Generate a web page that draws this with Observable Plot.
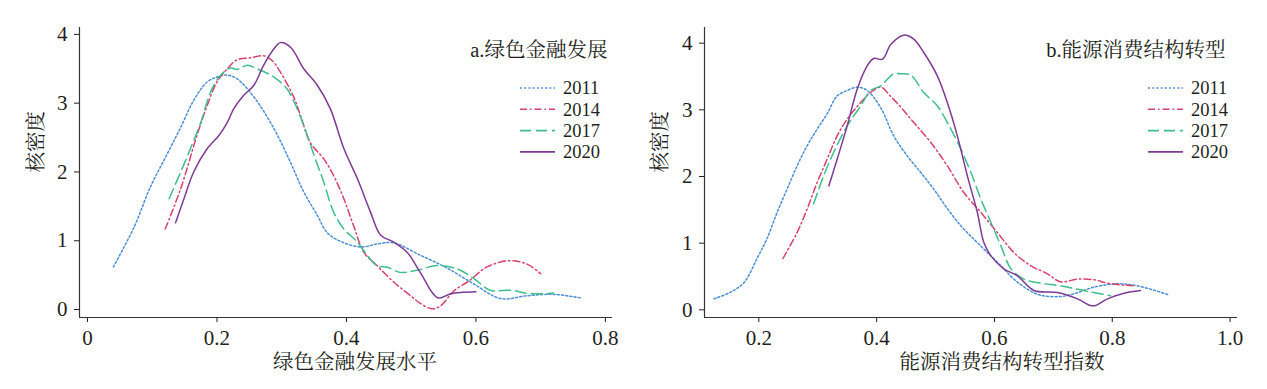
<!DOCTYPE html>
<html><head><meta charset="utf-8">
<script src="https://cdn.jsdelivr.net/npm/d3@7"></script>
<script src="https://cdn.jsdelivr.net/npm/@observablehq/plot@0.6"></script>
<style>
body{margin:0;background:#fff;}
#wrap{display:flex;width:1267px;height:389px;overflow:hidden;}
</style></head><body><div id="wrap"></div>
<script>
// ---------- data ----------
const years = ["2011", "2014", "2017", "2020"];

// Panel a: 绿色金融发展
const a2011x = [0.040,0.072,0.097,0.123,0.144,0.164,0.185,0.200,0.213,0.230,0.257,0.288,0.313,0.334,0.355,0.370,0.391,0.422,0.452,0.473,0.514,0.556,0.597,0.638,0.679,0.720,0.761];
const a2011y = [0.62,1.20,1.78,2.26,2.65,3.04,3.31,3.38,3.41,3.36,3.09,2.63,2.15,1.71,1.37,1.12,0.99,0.91,0.96,0.97,0.79,0.60,0.37,0.16,0.20,0.22,0.17];
const a2014x = [0.120,0.144,0.169,0.185,0.200,0.216,0.231,0.252,0.272,0.285,0.298,0.319,0.329,0.344,0.365,0.380,0.396,0.411,0.427,0.447,0.473,0.499,0.514,0.532,0.545,0.566,0.590,0.617,0.653,0.679,0.700];
const a2014y = [1.17,1.76,2.53,2.97,3.31,3.50,3.63,3.66,3.69,3.62,3.45,3.08,2.82,2.43,2.19,1.95,1.61,1.22,0.83,0.64,0.40,0.20,0.09,0.01,0.05,0.27,0.42,0.62,0.71,0.66,0.52];
const a2017x = [0.126,0.144,0.159,0.175,0.190,0.205,0.221,0.231,0.247,0.262,0.288,0.308,0.319,0.334,0.350,0.365,0.380,0.396,0.417,0.432,0.447,0.463,0.483,0.509,0.540,0.571,0.597,0.622,0.653,0.684,0.720];
const a2017y = [1.61,2.00,2.34,2.72,3.16,3.40,3.51,3.49,3.55,3.50,3.38,3.21,3.02,2.68,2.24,1.85,1.42,1.17,0.98,0.79,0.64,0.615,0.54,0.57,0.64,0.59,0.45,0.28,0.28,0.23,0.24];
const a2020x = [0.136,0.149,0.164,0.185,0.203,0.216,0.226,0.241,0.257,0.272,0.288,0.298,0.314,0.334,0.355,0.375,0.396,0.417,0.437,0.453,0.473,0.494,0.514,0.541,0.561,0.580,0.600];
const a2020y = [1.26,1.61,2.00,2.34,2.53,2.72,2.92,3.11,3.26,3.55,3.79,3.88,3.81,3.50,3.26,2.92,2.34,1.90,1.42,1.08,0.98,0.83,0.54,0.17,0.23,0.25,0.26];

// Panel b: 能源消费结构转型
const b2011x = [0.124,0.152,0.175,0.197,0.214,0.231,0.248,0.265,0.282,0.299,0.316,0.333,0.350,0.367,0.384,0.407,0.429,0.452,0.475,0.497,0.520,0.543,0.565,0.588,0.611,0.633,0.656,0.678,0.712,0.735,0.769,0.809,0.843,0.894];
const b2011y = [0.165,0.265,0.41,0.77,1.07,1.46,1.81,2.16,2.46,2.71,2.94,3.21,3.29,3.34,3.29,3.03,2.61,2.31,2.06,1.81,1.52,1.26,1.06,0.86,0.66,0.46,0.31,0.22,0.20,0.24,0.34,0.39,0.36,0.23];
const b2014x = [0.241,0.265,0.282,0.299,0.316,0.333,0.350,0.373,0.390,0.407,0.424,0.441,0.463,0.492,0.520,0.548,0.577,0.605,0.633,0.662,0.690,0.712,0.741,0.770,0.792,0.835];
const b2014y = [0.77,1.16,1.51,1.91,2.26,2.61,2.86,3.11,3.26,3.34,3.20,3.04,2.81,2.51,2.16,1.76,1.46,1.16,0.86,0.66,0.54,0.42,0.46,0.45,0.40,0.36];
const b2017x = [0.293,0.310,0.327,0.350,0.373,0.390,0.407,0.429,0.441,0.458,0.480,0.503,0.526,0.543,0.560,0.577,0.594,0.611,0.628,0.650,0.678,0.712,0.746,0.797];
const b2017y = [1.59,2.01,2.36,2.76,3.06,3.29,3.36,3.54,3.54,3.52,3.26,3.06,2.71,2.41,2.06,1.66,1.31,0.96,0.615,0.46,0.40,0.36,0.30,0.21];
const b2020x = [0.319,0.333,0.350,0.367,0.384,0.395,0.410,0.424,0.446,0.463,0.480,0.503,0.520,0.537,0.554,0.571,0.582,0.594,0.616,0.639,0.667,0.707,0.741,0.763,0.772,0.792,0.820,0.848];
const b2020y = [1.86,2.26,2.76,3.31,3.66,3.77,3.76,3.98,4.12,4.06,3.86,3.51,3.11,2.61,2.01,1.46,1.01,0.81,0.615,0.51,0.29,0.26,0.165,0.065,0.065,0.165,0.25,0.29];

// ticks
const aXTicks = [0, 0.2, 0.4, 0.6, 0.8];
const aXTickLabels = ["0", "0.2", "0.4", "0.6", "0.8"];
const bXTicks = [0.2, 0.4, 0.6, 0.8, 1.0];
const bXTickLabels = ["0.2", "0.4", "0.6", "0.8", "1.0"];
const yTicks = [0, 1, 2, 3, 4];
const yTickLabels = ["0", "1", "2", "3", "4"];

// texts
const yLabel = "核密度";
const aTitle = "a.绿色金融发展";
const bTitle = "b.能源消费结构转型";
const aXLabel = "绿色金融发展水平";
const bXLabel = "能源消费结构转型指数";

// ---------- styles ----------
const colors = ["#4a8fd8", "#d8406f", "#3dbf8c", "#7e3b93"];
const dashes = ["2,2.2", "7,3,1.5,3", "11,5", null];
const FONT = `"Liberation Serif","Times New Roman","Noto Serif CJK SC","Noto Sans CJK SC",serif`;
const CJK = `"Liberation Serif","Noto Serif CJK SC","Noto Sans CJK SC",serif`;

function zipRows(xs, ys) { return xs.map((x, i) => ({x, y: ys[i]})); }

function panel(cfg) {
  const fmt = (ticks, labels) => d => labels[ticks.indexOf(d)];
  const lines = cfg.series.map((s, i) => Plot.line(zipRows(s[0], s[1]), {
    x: "x", y: "y", stroke: colors[i], strokeWidth: 1.5,
    strokeDasharray: dashes[i] ?? undefined, curve: "catmull-rom"
  }));
  const svg = Plot.plot({
    width: cfg.width, height: 389,
    marginLeft: cfg.ml, marginRight: cfg.mr, marginTop: 27, marginBottom: 72,
    style: {fontFamily: FONT, fontSize: "21px", color: "#231f20", background: "#fff", overflow: "visible"},
    x: {domain: cfg.xDomain, ticks: cfg.xTicks, tickFormat: fmt(cfg.xTicks, cfg.xTickLabels), tickSize: 5, tickPadding: 8, label: null},
    y: {domain: cfg.yDomain, ticks: yTicks, tickFormat: fmt(yTicks, yTickLabels), tickSize: 5, tickPadding: 7, label: null},
    marks: [
      Plot.ruleX([cfg.xDomain[0]], {stroke: "#333", strokeWidth: 1.2}),
      Plot.ruleY([cfg.yDomain[0]], {stroke: "#333", strokeWidth: 1.2}),
      ...lines,
      Plot.text([cfg.title], {text: d => d, frameAnchor: "top-right", textAnchor: "end", dx: cfg.titleDx, dy: 15, fontSize: 20.5, fontFamily: CJK, fill: "#231f20"}),
      Plot.text([cfg.xLabel], {text: d => d, frameAnchor: "bottom", dx: cfg.xLabelDx, dy: 51, fontSize: 20.5, fontFamily: CJK, fill: "#231f20"}),
      Plot.text([yLabel], {text: d => d, frameAnchor: "left", rotate: -90, dx: cfg.yLabelDx, dy: 0, fontSize: 20.5, fontFamily: CJK, fill: "#231f20"})
    ]
  });
  // legend
  const g = d3.select(svg).append("g")
    .attr("font-family", FONT).attr("font-size", 18.5).attr("fill", "#231f20").attr("text-anchor", "start");
  years.forEach((yr, i) => {
    const yy = 88 + i * 21.3;
    g.append("line").attr("x1", cfg.legX).attr("x2", cfg.legX + 35).attr("y1", yy).attr("y2", yy)
      .attr("stroke", colors[i]).attr("stroke-width", 1.6).attr("stroke-dasharray", dashes[i] ?? null);
    g.append("text").attr("x", cfg.legX + 43).attr("y", yy).attr("dy", "0.35em")
      .attr("text-anchor", "start").text(yr);
  });
  return svg;
}

const wrap = document.getElementById("wrap");
wrap.append(panel({
  width: 633, ml: 79, mr: 21,
  xDomain: [-0.0124, 0.811], yDomain: [-0.116, 4.1],
  xTicks: aXTicks, xTickLabels: aXTickLabels,
  series: [[a2011x, a2011y], [a2014x, a2014y], [a2017x, a2017y], [a2020x, a2020y]],
  title: aTitle, titleDx: -5, xLabel: aXLabel, xLabelDx: 9, yLabelDx: -43, legX: 520
}));
wrap.append(panel({
  width: 634, ml: 71, mr: 30,
  xDomain: [0.1078, 1.0126], yDomain: [-0.115, 4.235],
  xTicks: bXTicks, xTickLabels: bXTickLabels,
  series: [[b2011x, b2011y], [b2014x, b2014y], [b2017x, b2017y], [b2020x, b2020y]],
  title: bTitle, titleDx: -12, xLabel: bXLabel, xLabelDx: 31, yLabelDx: -44, legX: 515
}));
</script></body></html>
